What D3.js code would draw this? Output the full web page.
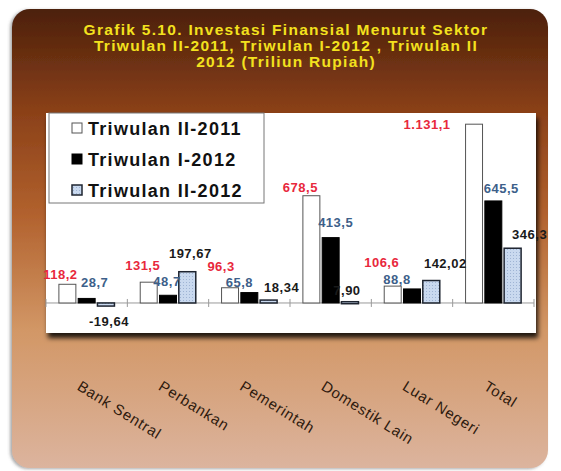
<!DOCTYPE html>
<html>
<head>
<meta charset="utf-8">
<script src="https://cdn.jsdelivr.net/npm/d3@7"></script>
<style>
  body { margin: 0; background: #fff; }
  svg { display: block; font-family: "Liberation Sans", Arial, sans-serif; }
</style>
</head>
<body>
<div id="chart"></div>
<script>
// Data (Triliun Rupiah)
var sectors = ["Bank Sentral", "Perbankan", "Pemerintah", "Domestik Lain", "Luar Negeri", "Total"];
var seriesNames = ["Triwulan II-2011", "Triwulan I-2012", "Triwulan II-2012"];
var q2_2011 = [118.2, 131.5, 96.3, 678.5, 106.6, 1131.1];
var q1_2012 = [28.7, 48.7, 65.8, 413.5, 88.8, 645.5];
var q2_2012 = [-19.64, 197.67, 18.34, 7.90, 142.02, 346.3];
var labels2011 = ["118,2", "131,5", "96,3", "678,5", "106,6", "1.131,1"];
var labels1_2012 = ["28,7", "48,7", "65,8", "413,5", "88,8", "645,5"];
var labels2_2012 = ["-19,64", "197,67", "18,34", "7,90", "142,02", "346,3"];
var titleLines = ["Grafik 5.10. Investasi Finansial Menurut Sektor",
                  "Triwulan II-2011, Triwulan I-2012 , Triwulan II",
                  "2012  (Triliun Rupiah)"];

// hand placed value labels in the original: nudges from the bar end (px)
var labelDx = [[-7, -6, -9, -11, -11, -47],
               [8, -1, -10, 5, -15, 8],
               [3, 3, 13, -3, 14, 17]];
var labelDy = [[-5, -12, -17, -4, -19, 5],
               [-11, -9, -6, -11, -5, -8],
               [20, -14, -8, -7, -13, -9]];

var width = 561, height = 471;

var svg = d3.select("#chart").append("svg")
  .attr("width", width)
  .attr("height", height);

var defs = svg.append("defs");

// background gradient for the panel
var grad = defs.append("linearGradient")
  .attr("id", "bg").attr("x1", 0).attr("y1", 0).attr("x2", 0).attr("y2", 1);
grad.append("stop").attr("offset", "0%").attr("stop-color", "#4c200b");
grad.append("stop").attr("offset", "22%").attr("stop-color", "#8a4018");
grad.append("stop").attr("offset", "45%").attr("stop-color", "#b2622e");
grad.append("stop").attr("offset", "70%").attr("stop-color", "#d29766");
grad.append("stop").attr("offset", "100%").attr("stop-color", "#dcb49e");

// dotted light blue fill
var pat = defs.append("pattern")
  .attr("id", "dots").attr("width", 3).attr("height", 3)
  .attr("patternUnits", "userSpaceOnUse");
pat.append("rect").attr("width", 3).attr("height", 3).attr("fill", "#c9d9ef");
pat.append("rect").attr("width", 1).attr("height", 1).attr("fill", "#9fb4d4");

var shadow = defs.append("filter").attr("id", "shadow")
  .attr("x", "-5%").attr("y", "-5%").attr("width", "115%").attr("height", "120%");
shadow.append("feDropShadow").attr("dx", 2).attr("dy", 5).attr("stdDeviation", 2.5)
  .attr("flood-color", "#000").attr("flood-opacity", 0.85);

var panelShadow = defs.append("filter").attr("id", "pshadow")
  .attr("x", "-5%").attr("y", "-5%").attr("width", "110%").attr("height", "110%");
panelShadow.append("feDropShadow").attr("dx", -2).attr("dy", 1).attr("stdDeviation", 1.5)
  .attr("flood-color", "#555").attr("flood-opacity", 0.5);

// Panel
svg.append("rect")
  .attr("x", 12).attr("y", 9)
  .attr("width", 536).attr("height", 459)
  .attr("rx", 18).attr("ry", 18)
  .attr("fill", "url(#bg)")
  .attr("filter", "url(#pshadow)");

// Title
svg.append("g").selectAll("text")
  .data(titleLines)
  .enter().append("text")
  .attr("x", 286)
  .attr("y", function(d, i) { return 35 + i * 16; })
  .attr("text-anchor", "middle")
  .attr("fill", "#f3e11e")
  .attr("font-size", 15.5)
  .attr("font-weight", "bold")
  .attr("letter-spacing", 1.3)
  .text(function(d) { return d; });

// Plot area
var plot = { left: 46, right: 536, top: 113, bottom: 333 };
svg.append("rect")
  .attr("x", plot.left).attr("y", plot.top)
  .attr("width", plot.right - plot.left).attr("height", plot.bottom - plot.top)
  .attr("fill", "#fff")
  .attr("filter", "url(#shadow)");

var x0 = d3.scaleBand()
  .domain(sectors)
  .range([46, 534])
  .paddingInner(0.26)
  .paddingOuter(0.13);

var x1 = d3.scaleBand()
  .domain(d3.range(3))
  .range([0, x0.bandwidth()])
  .padding(0.12);

var y = d3.scaleLinear()
  .domain([-190, 1200])
  .range([333, 113.3]);

var step = x0.step();
var y0 = y(0);

// axis line and ticks at category boundaries
var axis = svg.append("g");
axis.append("line")
  .attr("x1", 46).attr("x2", 534)
  .attr("y1", y0).attr("y2", y0)
  .attr("stroke", "#999").attr("stroke-width", 1);
axis.selectAll(".tick")
  .data(d3.range(sectors.length + 1))
  .enter().append("line")
  .attr("x1", function(d) { return 46 + d * step; })
  .attr("x2", function(d) { return 46 + d * step; })
  .attr("y1", y0 - 4).attr("y2", y0 + 4)
  .attr("stroke", "#999");

var allSeries = [q2_2011, q1_2012, q2_2012];
var fills = ["#fff", "#000", "url(#dots)"];
var strokes = ["#555", "#000", "#1e2430"];
var strokeW = [1, 1, 1.5];
var labelColors = ["#e8283c", "#3d5f8a", "#1a1a1a"];
var labelText = [labels2011, labels1_2012, labels2_2012];

var rows = [];
allSeries.forEach(function(vals, s) {
  vals.forEach(function(v, i) {
    rows.push({ s: s, i: i, sector: sectors[i], value: v, label: labelText[s][i] });
  });
});

svg.append("g").selectAll("rect")
  .data(rows)
  .enter().append("rect")
  .attr("x", function(d) { return x0(d.sector) + x1(d.s); })
  .attr("width", x1.bandwidth())
  .attr("y", function(d) { return y(Math.max(0, d.value)); })
  .attr("height", function(d) { return Math.max(2, Math.abs(y(d.value) - y0)); })
  .attr("fill", function(d) { return fills[d.s]; })
  .attr("stroke", function(d) { return strokes[d.s]; })
  .attr("stroke-width", function(d) { return strokeW[d.s]; });

svg.append("g").selectAll("text")
  .data(rows)
  .enter().append("text")
  .attr("x", function(d) { return x0(d.sector) + x1(d.s) + x1.bandwidth() / 2 + labelDx[d.s][d.i]; })
  .attr("y", function(d) { return y(d.value) + labelDy[d.s][d.i]; })
  .attr("text-anchor", "middle")
  .attr("fill", function(d) { return labelColors[d.s]; })
  .attr("font-size", 13)
  .attr("font-weight", "bold")
  .attr("letter-spacing", 0.5)
  .text(function(d) { return d.label; });

// Legend
var legend = svg.append("g").attr("transform", "translate(49,113)");
legend.append("rect")
  .attr("width", 215).attr("height", 90)
  .attr("fill", "#fff")
  .attr("stroke", "#777");
var item = legend.selectAll(".item")
  .data(seriesNames)
  .enter().append("g")
  .attr("transform", function(d, i) { return "translate(0," + (15 + i * 31) + ")"; });
item.append("rect")
  .attr("x", 23).attr("y", -5)
  .attr("width", 10).attr("height", 10)
  .attr("fill", function(d, i) { return fills[i]; })
  .attr("stroke", function(d, i) { return strokes[i]; })
  .attr("stroke-width", function(d, i) { return i === 2 ? 1.5 : 1; });
item.append("text")
  .attr("x", 39).attr("y", 7)
  .attr("fill", "#111")
  .attr("font-size", 18)
  .attr("font-weight", "bold")
  .attr("letter-spacing", 1.3)
  .text(function(d) { return d; });

// Rotated category labels
svg.append("g").selectAll("text")
  .data(sectors)
  .enter().append("text")
  .attr("transform", function(d) {
    var cx = x0(d) + x0.bandwidth() / 2;
    return "translate(" + (cx - 10.5) + ",389) rotate(32)";
  })
  .attr("fill", "#2e1a0e")
  .attr("font-size", 15)
  .attr("letter-spacing", 0.8)
  .text(function(d) { return d; });
</script>
</body>
</html>
